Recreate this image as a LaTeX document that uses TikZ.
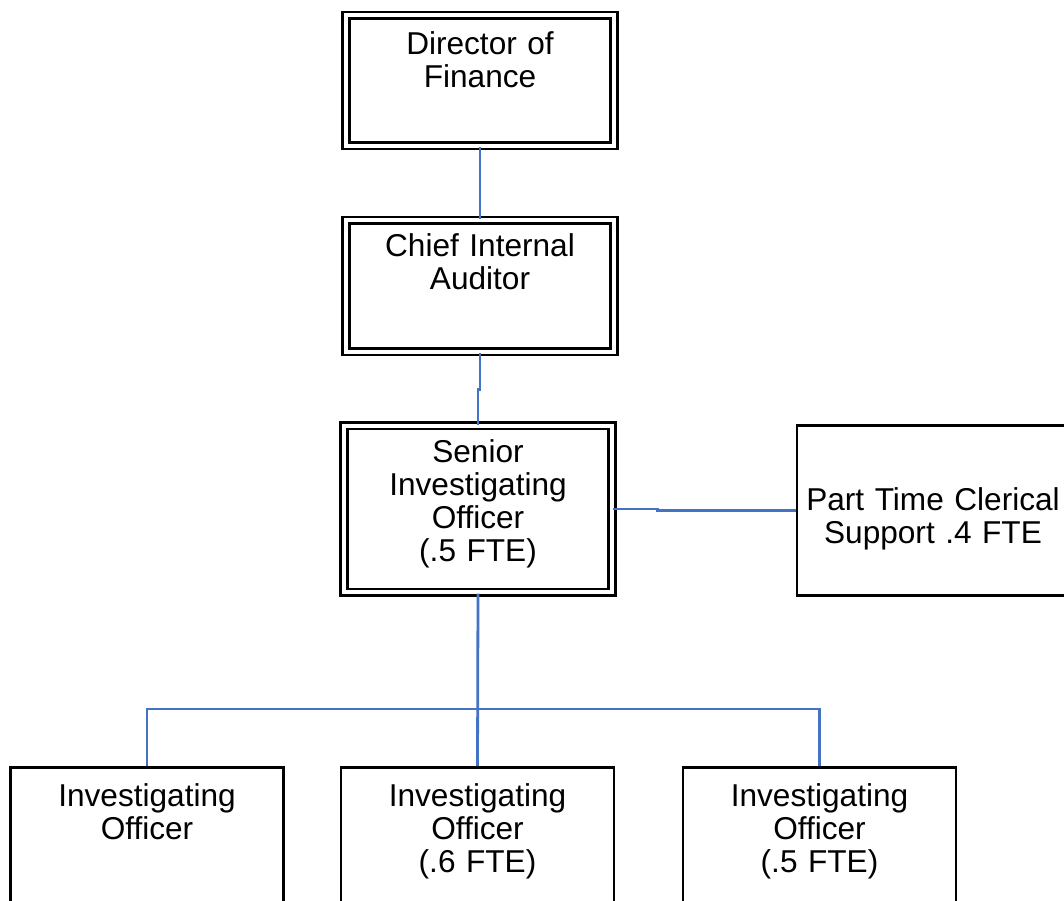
\documentclass[tikz,border=0pt]{standalone}
\usepackage{fontspec}
\setmainfont{Liberation Sans}

\begin{document}
\begin{tikzpicture}[x=0.5pt,y=-0.5pt,
    font=\fontsize{15.8pt}{16.5pt}\selectfont,
    post/.style={draw, line width=1.3pt, anchor=north, align=center,
        inner sep=0pt, text width=136.5pt},
    head/.style={post, double, double distance=2pt, text width=134pt},
    link/.style={draw=linkblue, line width=1.4pt}]
    \definecolor{linkblue}{RGB}{68,114,196}
    \useasboundingbox (0,0) rectangle (1064,900);

    \node[head, text height=19.5pt, text depth=45.75pt] (dir) at (480,14) {Director of\\Finance};
    \node[head, text height=18pt, text depth=47.75pt] (cia) at (480,219) {Chief Internal\\Auditor};
    \node[head, text height=18.25pt, text depth=65pt] (sio) at (478,424.5) {Senior\\Investigating\\Officer\\(.5 FTE)};
    \node[post, text width=136pt, text height=42.5pt, text depth=42.5pt] (clerk) at (933,424) {Part Time Clerical\\Support .4 FTE};
    \node[post, text height=19.5pt, text depth=55.5pt] (io1) at (147,766) {Investigating\\Officer};
    \node[post, text height=19.5pt, text depth=55.5pt] (io2) at (477.5,766) {Investigating\\Officer\\(.6 FTE)};
    \node[post, text height=19.5pt, text depth=55.5pt] (io3) at (819.5,766) {Investigating\\Officer\\(.5 FTE)};

    \path[link] (dir) -- (cia);
    \path[link] (cia.south) -- ++(0,36) -| (sio.north);
    \path[link] (sio.east) -- ++(44,0) |- (clerk.west);
    \path[link] (sio.south) -- (io2.north);
    \path[link] (io1.north) -- ++(0,-57) -| (io3.north);
\end{tikzpicture}
\end{document}
